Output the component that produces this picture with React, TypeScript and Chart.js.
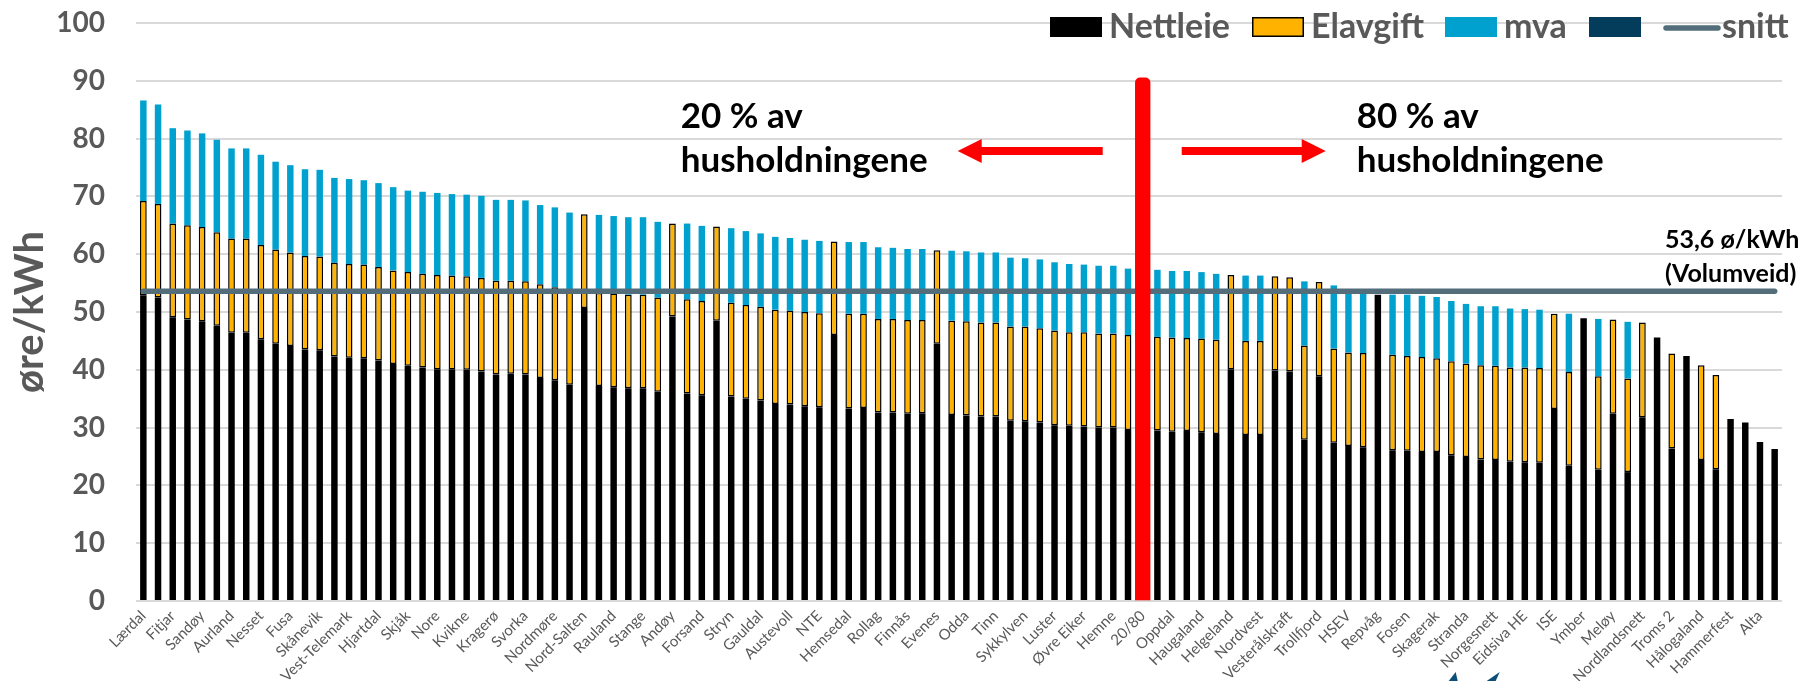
import React, { useEffect, useRef } from 'react';
import { Chart, registerables } from 'chart.js';

Chart.register(...registerables);

// ---------- DATA ----------
const labels: string[] = [
  'Lærdal', '', 'Fitjar', '', 'Sandøy', '', 'Aurland', '', 'Nesset', '',
  'Fusa', '', 'Skånevik', '', 'Vest-Telemark', '', 'Hjartdal', '', 'Skjåk', '',
  'Nore', '', 'Kvikne', '', 'Kragerø', '', 'Svorka', '', 'Nordmøre', '',
  'Nord-Salten', '', 'Rauland', '', 'Stange', '', 'Andøy', '', 'Forsand', '',
  'Stryn', '', 'Gauldal', '', 'Austevoll', '', 'NTE', '', 'Hemsedal', '',
  'Rollag', '', 'Finnås', '', 'Evenes', '', 'Odda', '', 'Tinn', '',
  'Sykkylven', '', 'Luster', '', 'Øvre Eiker', '', 'Hemne', '', '20/80', '',
  'Oppdal', '', 'Haugaland', '', 'Helgeland', '', 'Nordvest', '', 'Vesterålskraft', '',
  'Trollfjord', '', 'HSEV', '', 'Repvåg', '', 'Fosen', '', 'Skagerak', '',
  'Stranda', '', 'Norgesnett', '', 'Eidsiva HE', '', 'ISE', '', 'Ymber', '',
  'Meløy', '', 'Nordlandsnett', '', 'Troms 2', '', 'Hålogaland', '', 'Hammerfest', '',
  'Alta', ''
];

const nettleie: (number | null)[] = [
  52.9, 52.5, 49.1, 48.7, 48.4, 47.6, 46.4, 46.4, 45.3, 44.5,
  44.1, 43.5, 43.4, 42.3, 42.1, 42.0, 41.6, 41.0, 40.7, 40.4,
  40.1, 40.1, 40.0, 39.7, 39.2, 39.3, 39.2, 38.6, 38.2, 37.4,
  50.7, 37.2, 37.0, 36.8, 36.8, 36.2, 49.2, 35.9, 35.6, 48.5,
  35.4, 35.0, 34.7, 34.1, 34.0, 33.7, 33.5, 46.0, 33.3, 33.4,
  32.6, 32.6, 32.4, 32.5, 44.5, 32.2, 32.1, 31.9, 31.9, 31.2,
  31.1, 30.9, 30.4, 30.3, 30.2, 30.0, 30.0, 29.6, null, 29.5,
  29.3, 29.4, 29.2, 28.9, 40.1, 28.7, 28.7, 39.9, 39.7, 27.9,
  38.9, 27.4, 26.8, 26.6, 53.0, 26.1, 26.0, 25.8, 25.8, 25.2,
  24.9, 24.5, 24.4, 24.1, 24.0, 23.9, 33.2, 23.4, 48.9, 22.7,
  32.4, 22.3, 31.8, 45.6, 26.4, 42.4, 24.4, 22.8, 31.5, 30.9,
  27.5, 26.3
];

const elavgift: (number | null)[] = [
  16.3, 16.2, 16.2, 16.3, 16.3, 16.2, 16.3, 16.3, 16.3, 16.3,
  16.2, 16.2, 16.2, 16.2, 16.2, 16.2, 16.2, 16.2, 16.2, 16.2,
  16.3, 16.2, 16.2, 16.2, 16.2, 16.1, 16.1, 16.2, 16.1, 16.1,
  16.2, 16.1, 16.2, 16.2, 16.2, 16.3, 16.1, 16.3, 16.3, 16.3,
  16.2, 16.2, 16.2, 16.3, 16.2, 16.3, 16.3, 16.2, 16.4, 16.3,
  16.2, 16.2, 16.2, 16.1, 16.2, 16.3, 16.3, 16.3, 16.3, 16.3,
  16.4, 16.3, 16.4, 16.2, 16.3, 16.3, 16.3, 16.4, null, 16.2,
  16.3, 16.1, 16.2, 16.3, 16.3, 16.3, 16.3, 16.3, 16.3, 16.3,
  16.3, 16.3, 16.2, 16.3, null, 16.5, 16.4, 16.4, 16.2, 16.3,
  16.2, 16.3, 16.3, 16.3, 16.4, 16.4, 16.5, 16.2, null, 16.2,
  16.3, 16.2, 16.4, null, 16.4, null, 16.4, 16.3, null, null,
  null, null
];

const mva: (number | null)[] = [
  17.4, 17.2, 16.5, 16.4, 16.2, 16.0, 15.6, 15.6, 15.6, 15.2,
  15.1, 15.0, 15.0, 14.7, 14.7, 14.6, 14.5, 14.4, 14.1, 14.2,
  14.2, 14.1, 14.1, 14.2, 14.0, 14.0, 14.0, 13.7, 13.8, 13.7,
  null, 13.5, 13.4, 13.4, 13.4, 13.1, null, 13.1, 13.0, null,
  12.9, 12.8, 12.7, 12.6, 12.6, 12.5, 12.5, null, 12.4, 12.4,
  12.4, 12.3, 12.3, 12.3, null, 12.1, 12.1, 12.1, 12.1, 11.9,
  11.8, 11.9, 11.8, 11.8, 11.7, 11.7, 11.7, 11.5, null, 11.6,
  11.5, 11.6, 11.5, 11.4, null, 11.3, 11.3, null, null, 11.1,
  null, 10.9, 10.6, 10.6, null, 10.4, 10.6, 10.6, 10.6, 10.4,
  10.3, 10.2, 10.3, 10.2, 10.1, 10.1, null, 10.1, null, 9.9,
  null, 9.8, null, null, null, null, null, null, null, null,
  null, null
];

const skilleLabel = '20/80';
const skilleHoyde = 90.5;
const snitt = 53.6;
const yMin = 0;
const yMax = 100;
const yStep = 10;

// ---------- STYLE ----------
const GRAY = '#595959';
const C_NETT = '#000000';
const C_EL = '#FFB300';
const C_MVA = '#00A1CF';
const C_NAVY = '#043C5C';
const C_SNITT = '#536D7A';
const C_RED = '#FF0000';
const FONT = 'Lato, "Open Sans", sans-serif';

function drawArrow(ctx: CanvasRenderingContext2D, tail: number, tip: number, y: number) {
  const dir = tip > tail ? 1 : -1;
  const headLen = 24;
  const shaftH = 4;
  const headH = 12;
  const base = tip - dir * headLen;
  ctx.beginPath();
  ctx.moveTo(tail, y - shaftH);
  ctx.lineTo(base, y - shaftH);
  ctx.lineTo(base, y - headH);
  ctx.lineTo(tip, y);
  ctx.lineTo(base, y + headH);
  ctx.lineTo(base, y + shaftH);
  ctx.lineTo(tail, y + shaftH);
  ctx.closePath();
  ctx.fill();
}

const overlayPlugin = {
  id: 'overlay',
  afterDraw(chart: any) {
    const ctx: CanvasRenderingContext2D = chart.ctx;
    const xs = chart.scales.x;
    const ys = chart.scales.y;
    const redIdx = labels.indexOf(skilleLabel);
    const redX = xs.getPixelForValue(redIdx);
    ctx.save();

    // annotation texts
    ctx.fillStyle = '#000';
    ctx.font = `bold 35px ${FONT}`;
    ctx.textBaseline = 'middle';
    ctx.textAlign = 'left';
    ctx.fillText('20 % av', redX - 462, 117);
    ctx.fillText('husholdningene', redX - 462, 161);
    ctx.fillText('80 % av', redX + 214, 117);
    ctx.fillText('husholdningene', redX + 214, 161);

    // red arrows
    ctx.fillStyle = C_RED;
    drawArrow(ctx, redX - 40, redX - 185, 151);
    drawArrow(ctx, redX + 39, redX + 183, 151);

    // snitt label
    const ly = ys.getPixelForValue(snitt);
    ctx.fillStyle = '#000';
    ctx.font = `bold 25px ${FONT}`;
    ctx.fillText(`${String(snitt).replace('.', ',')} ø/kWh`, 1665, ly - 51);
    ctx.fillText('(Volumveid)', 1665, ly - 17);

    // navy arrow tips at bottom
    ctx.fillStyle = '#0B4F79';
    const b = chart.height;
    ctx.beginPath();
    ctx.moveTo(redX + 306, b);
    ctx.lineTo(redX + 313, b - 9);
    ctx.lineTo(redX + 315, b);
    ctx.closePath();
    ctx.fill();
    ctx.beginPath();
    ctx.moveTo(redX + 344, b);
    ctx.lineTo(redX + 357, b - 9);
    ctx.lineTo(redX + 353, b);
    ctx.closePath();
    ctx.fill();

    // legend
    const items = [
      { kind: 'box', x: 1050, color: C_NETT, border: null, text: 'Nettleie' },
      { kind: 'box', x: 1252, color: C_EL, border: '#000', text: 'Elavgift' },
      { kind: 'box', x: 1445, color: C_MVA, border: null, text: 'mva' },
      { kind: 'box', x: 1589, color: C_NAVY, border: null, text: '' },
      { kind: 'line', x: 1663, color: C_SNITT, border: null, text: 'snitt' },
    ];
    ctx.font = `bold 34px ${FONT}`;
    ctx.textBaseline = 'middle';
    const cy = 27;
    for (const it of items) {
      const x = it.x;
      if (it.kind === 'box') {
        ctx.fillStyle = it.color;
        ctx.fillRect(x, cy - 10, 52, 20);
        if (it.border) {
          ctx.strokeStyle = it.border;
          ctx.lineWidth = 1.5;
          ctx.strokeRect(x + 0.75, cy - 10 + 0.75, 50.5, 18.5);
        }
      } else {
        ctx.strokeStyle = it.color;
        ctx.lineWidth = 5.5;
        ctx.lineCap = 'round';
        ctx.beginPath();
        ctx.moveTo(x + 3, cy + 1);
        ctx.lineTo(x + 55, cy + 1);
        ctx.stroke();
      }
      if (it.text) {
        ctx.fillStyle = GRAY;
        ctx.fillText(it.text, x + 59, cy);
      }
    }
    ctx.restore();
  },
};

export default function App() {
  const ref = useRef<HTMLCanvasElement | null>(null);

  useEffect(() => {
    document.body.style.margin = '0';
    const canvas = ref.current;
    if (!canvas) return;
    const skille = labels.map((l) => (l === skilleLabel ? skilleHoyde : null));
    const snittData = labels.map(() => snitt);
    const tom = labels.map(() => null);

    const chart = new Chart(canvas, {
      data: {
        labels,
        datasets: [
          { type: 'bar', label: 'Nettleie', data: nettleie, backgroundColor: C_NETT, barPercentage: 0.44, categoryPercentage: 1, order: 2 },
          { type: 'bar', label: 'Elavgift', data: elavgift, backgroundColor: C_EL, borderColor: '#000', borderWidth: 1.5, borderSkipped: false, barPercentage: 0.46, categoryPercentage: 1, order: 2 },
          { type: 'bar', label: 'mva', data: mva, backgroundColor: C_MVA, barPercentage: 0.44, categoryPercentage: 1, order: 2 },
          { type: 'bar', label: '', data: tom, backgroundColor: C_NAVY, barPercentage: 0.44, categoryPercentage: 1, order: 2 },
          { type: 'bar', label: skilleLabel, data: skille, backgroundColor: C_RED, barPercentage: 1, categoryPercentage: 1, borderRadius: { topLeft: 5, topRight: 5, bottomLeft: 0, bottomRight: 0 }, borderSkipped: false, order: 0 },
          { type: 'line', label: 'snitt', data: snittData, borderColor: C_SNITT, borderWidth: 5.5, pointRadius: 0, borderCapStyle: 'round', order: 1 },
        ] as any,
      },
      options: {
        responsive: false,
        animation: false,
        devicePixelRatio: 1,
        layout: { padding: { top: 23, right: 17, left: 0, bottom: 0 } },
        plugins: { legend: { display: false }, tooltip: { enabled: false } },
        scales: {
          x: {
            stacked: true,
            grid: { display: false, drawTicks: false },
            border: { display: false },
            ticks: {
              autoSkip: false,
              maxRotation: 45,
              minRotation: 45,
              padding: 6,
              color: GRAY,
              font: { family: FONT, size: 15 },
            },
            afterFit: (s: any) => { s.height = 80; },
          },
          y: {
            stacked: true,
            min: yMin,
            max: yMax,
            ticks: { stepSize: yStep, padding: 31, color: GRAY, font: { family: FONT, size: 28, weight: 'bold' } },
            grid: { color: '#D9D9D9', lineWidth: 2, drawTicks: false },
            border: { display: false },
            title: { display: true, text: 'øre/kWh', color: GRAY, font: { family: FONT, size: 40, weight: 'bold' }, padding: { top: 6, bottom: 0 } },
            afterFit: (s: any) => {
              s.width = 136;
              s.paddingTop = 15;
              s.paddingBottom = 15;
            },
          },
        },
      } as any,
      plugins: [overlayPlugin],
    });
    return () => chart.destroy();
  }, []);

  return (
    <div style={{ width: 1799, height: 681 }}>
      <canvas ref={ref} width={1799} height={681} style={{ display: 'block' }} />
    </div>
  );
}
